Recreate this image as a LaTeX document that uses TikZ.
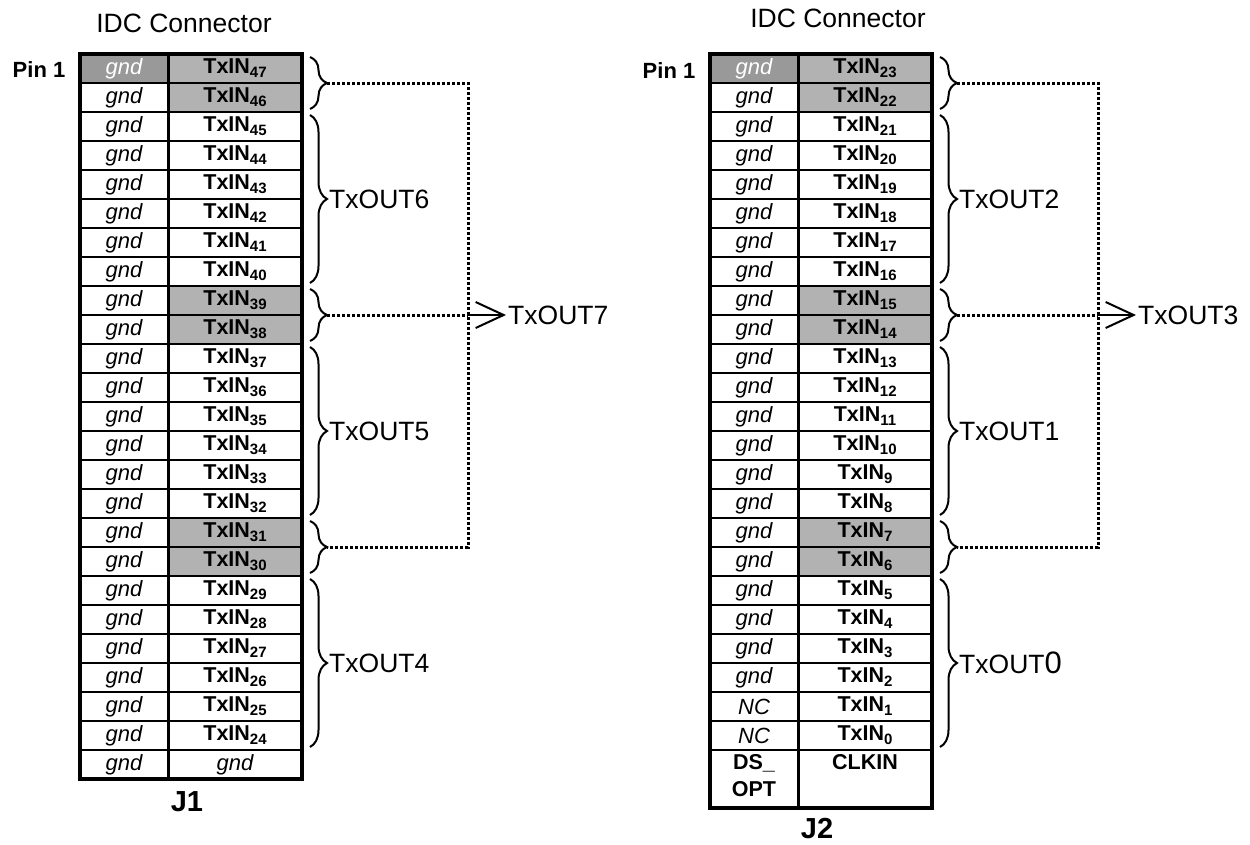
\documentclass[tikz,border=0pt]{standalone}
\usepackage{fontspec}
\setmainfont{Liberation Sans}
\usetikzlibrary{arrows.meta,decorations.pathreplacing}

\definecolor{cellGray}{gray}{0.70}
\definecolor{pinGray}{gray}{0.60}
\newcommand{\txin}[1]{TxIN\raisebox{-0.35ex}{\fontsize{15}{15}\selectfont #1}}

\begin{document}
\begin{tikzpicture}
[x=1pt,y=-1pt,%
  gndText/.style={font=\fontsize{22}{24}\selectfont\itshape,inner sep=0pt},%
  pinName/.style={font=\fontsize{21.5}{24}\selectfont\bfseries,inner sep=0pt},%
  pinOne/.style={font=\fontsize{22}{24}\selectfont\bfseries},%
  headText/.style={font=\fontsize{26.5}{30}\selectfont},%
  outLabel/.style={font=\fontsize{26.5}{30}\selectfont,anchor=west,inner sep=2pt},%
  jLabel/.style={font=\fontsize{29}{32}\selectfont\bfseries},%
  rowLine/.style={line width=2pt},%
  colLine/.style={line width=3pt},%
  frameLine/.style={line width=4pt},%
  braceLine/.style={line width=2pt,decorate,decoration={brace,amplitude=17pt}},%
  busLine/.style={line width=3pt,dash pattern=on 3pt off 2pt},%
  outArrow/.style={line width=2pt,-{Straight Barb[length=28pt,width=26pt]}}]
\useasboundingbox (0,0) rectangle (1250,844);

%% ---------------- J1 ----------------
\node[headText] (J1head) at (184,23) {IDC Connector};
\node[pinOne] (J1pin) at (39,70) {Pin 1};
%% grey cells
\fill[pinGray] (80,54) rectangle (168,83);
\foreach \a/\b in {54/112, 286/344, 518/576}
{
  \fill[cellGray] (168,\a) rectangle (302,\b);
}
%% pin names
\node[gndText,text=white] (J1g0) at (124,68.5) {gnd};
\node[pinName] (J1t0) at (235,68.5) {\txin{47}};
\foreach \r [evaluate=\r as \n using int(47-\r)] in {1,...,23}
{
  \node[gndText] (J1g\r) at (124,{68.5+29*\r}) {gnd};
  \node[pinName] (J1t\r) at (235,{68.5+29*\r}) {\txin{\n}};
}
\node[gndText] (J1g24) at (124,764.5) {gnd};
\node[gndText] (J1t24) at (235,764.5) {gnd};
%% table lines
\foreach \r in {1,...,24}
{
  \draw[rowLine] (80,{54+29*\r}) -- (302,{54+29*\r});
}
\draw[colLine] (168,54) -- (168,779);
\draw[frameLine] (80,54) rectangle (302,779);
\node[jLabel] (J1name) at (187,802) {J1};
%% braces
\foreach \a/\b/\m in {54/112/83, 112/286/199, 286/344/315, 344/518/431, 518/576/547, 576/750/663}
{
  \draw[braceLine] (310,\a+3) -- (310,\b-3);
  \coordinate (J1b\m) at (327,\m);
}
\node[outLabel] (J1o6) at (J1b199) {TxOUT6};
\node[outLabel] (J1o5) at (J1b431) {TxOUT5};
\node[outLabel] (J1o4) at (J1b663) {TxOUT4};
%% dotted bus to TxOUT7
\coordinate (J1bus) at (468,315);
\node[outLabel] (J1o7) at (506,315) {TxOUT7};
\draw[busLine] (J1b83) -| (J1bus) |- (J1b547);
\draw[busLine] (J1b315) -- (J1bus);
\draw[outArrow] (J1bus) -- (J1o7.west);

%% ---------------- J2 ----------------
\begin{scope}[xshift=630pt]
\node[headText] (J2head) at (208,18) {IDC Connector};
\node[pinOne] (J2pin) at (39,71) {Pin 1};
%% grey cells
\fill[pinGray] (80,54) rectangle (168,83);
\foreach \a/\b in {54/112, 286/344, 518/576}
{
  \fill[cellGray] (168,\a) rectangle (302,\b);
}
%% pin names
\node[gndText,text=white] (J2g0) at (124,68.5) {gnd};
\node[pinName] (J2t0) at (235,68.5) {\txin{23}};
\foreach \r [evaluate=\r as \n using int(23-\r)] in {1,...,21}
{
  \node[gndText] (J2g\r) at (124,{68.5+29*\r}) {gnd};
  \node[pinName] (J2t\r) at (235,{68.5+29*\r}) {\txin{\n}};
}
\foreach \r [evaluate=\r as \n using int(23-\r)] in {22,23}
{
  \node[gndText] (J2g\r) at (124,{68.5+29*\r}) {NC};
  \node[pinName] (J2t\r) at (235,{68.5+29*\r}) {\txin{\n}};
}
\node[pinName,anchor=north,align=center,font=\fontsize{21.5}{27}\selectfont\bfseries] (J2g24) at (124,754) {DS\_\\OPT};
\node[pinName,anchor=north] (J2t24) at (235,754) {CLKIN};
%% table lines
\foreach \r in {1,...,24}
{
  \draw[rowLine] (80,{54+29*\r}) -- (302,{54+29*\r});
}
\draw[colLine] (168,54) -- (168,808);
\draw[frameLine] (80,54) rectangle (302,808);
\node[jLabel] (J2name) at (187,829) {J2};
%% braces
\foreach \a/\b/\m in {54/112/83, 112/286/199, 286/344/315, 344/518/431, 518/576/547, 576/750/663}
{
  \draw[braceLine] (310,\a+3) -- (310,\b-3);
  \coordinate (J2b\m) at (327,\m);
}
\node[outLabel] (J2o2) at (J2b199) {TxOUT2};
\node[outLabel] (J2o1) at (J2b431) {TxOUT1};
\node[outLabel] (J2o0) at (J2b663) {TxOUT{\fontsize{31}{31}\selectfont 0}};
%% dotted bus to TxOUT3
\coordinate (J2bus) at (468,315);
\node[outLabel] (J2o3) at (506,315) {TxOUT3};
\draw[busLine] (J2b83) -| (J2bus) |- (J2b547);
\draw[busLine] (J2b315) -- (J2bus);
\draw[outArrow] (J2bus) -- (J2o3.west);
\end{scope}
\end{tikzpicture}
\end{document}
